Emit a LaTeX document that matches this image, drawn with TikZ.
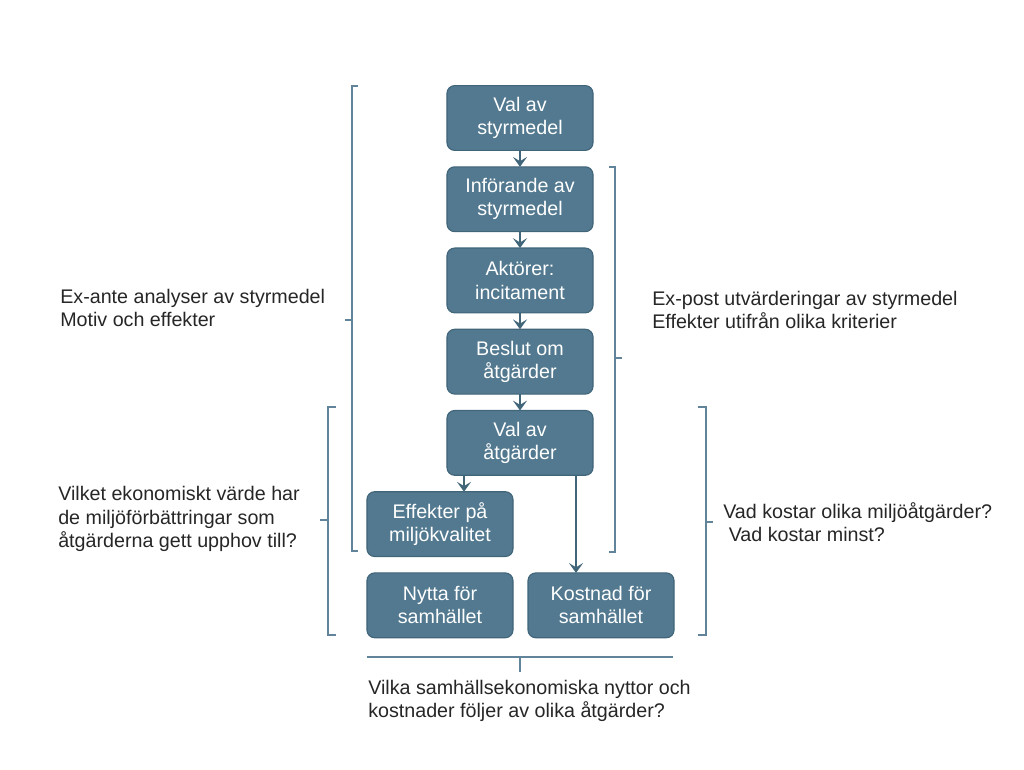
\documentclass[tikz,border=0pt]{standalone}
\usepackage{fontspec}
\setmainfont{Liberation Sans}
\usetikzlibrary{positioning,arrows.meta}
\definecolor{boxfill}{HTML}{52798F}
\definecolor{boxline}{HTML}{416579}
\definecolor{brack}{HTML}{62849A}
\begin{document}
\begin{tikzpicture}[x=0.025cm, y=-0.025cm,
main/.style = {draw=boxline, fill=boxfill, thick, rounded corners=5.5pt, text=white, minimum width=3.65cm, minimum height=1.62cm, align=center, inner sep=0pt, outer sep=0pt, font=\fontsize{14}{16.5}\selectfont},
txt/.style = {anchor=west, align=left, inner sep=0pt, text=black!85, font=\fontsize{14}{16.5}\selectfont},
arr/.style = {boxline, line width=1.2pt, -{Stealth[length=7pt,width=10pt,inset=3pt]}},
brace/.style = {brack, line width=1.2pt},
node distance={4.1mm}]
\useasboundingbox (0,0) rectangle (1024,769);
\node[main] (1) at (520,118) {Val av\\styrmedel};
\node[main] (2) [below=of 1] {Införande av\\styrmedel};
\node[main] (3) [below=of 2] {Aktörer:\\incitament};
\node[main] (4) [below=of 3] {Beslut om\\åtgärder};
\node[main] (5) [below=of 4] {Val av\\åtgärder};
\node[main] (6) [below=of 5, xshift=-2cm] {Effekter på\\miljökvalitet};
\node[main] (7) [below=of 6] {Nytta för\\samhället};
\node[main] (8) [right=3.75mm of 7] {Kostnad för\\samhället};
\coordinate (a) at ([xshift=-1.4cm]5.south);
\coordinate (b) at ([xshift=1.4cm]5.south);
\draw[arr] (1) -- (2);
\draw[arr] (2) -- (3);
\draw[arr] (3) -- (4);
\draw[arr] (4) -- (5);
\draw[arr] (a) -- (a |- 6.north);
\draw[arr] (b) -- (b |- 8.north);
% brackets
\draw[brace] (358,86) -- (352,86) -- (352,551) -- (358,551) (352,320) -- (345,320);
\draw[brace] (609,167) -- (615,167) -- (615,552) -- (609,552) (615,358) -- (622,358);
\draw[brace] (336,407) -- (328,407) -- (328,635) -- (336,635) (328,520) -- (320,520);
\draw[brace] (698,407) -- (706,407) -- (706,635) -- (698,635) (706,522) -- (713,522);
\draw[brace] (367,657) -- (673,657) (520,657) -- (520,672);
% texts
\node[txt] (t1) at (60,308) {Ex-ante analyser av styrmedel\\Motiv och effekter};
\node[txt] (t2) at (58,519) {Vilket ekonomiskt värde har\\de miljöförbättringar som\\åtgärderna gett upphov till?};
\node[txt] (t3) at (652,310) {Ex-post utvärderingar av styrmedel\\Effekter utifrån olika kriterier};
\node[txt] (t4) at (723,522) {Vad kostar olika miljöåtgärder?\\\ Vad kostar minst?};
\node[txt] (t5) at (368,701) {Vilka samhällsekonomiska nyttor och\\kostnader följer av olika åtgärder?};
\end{tikzpicture}
\end{document}
